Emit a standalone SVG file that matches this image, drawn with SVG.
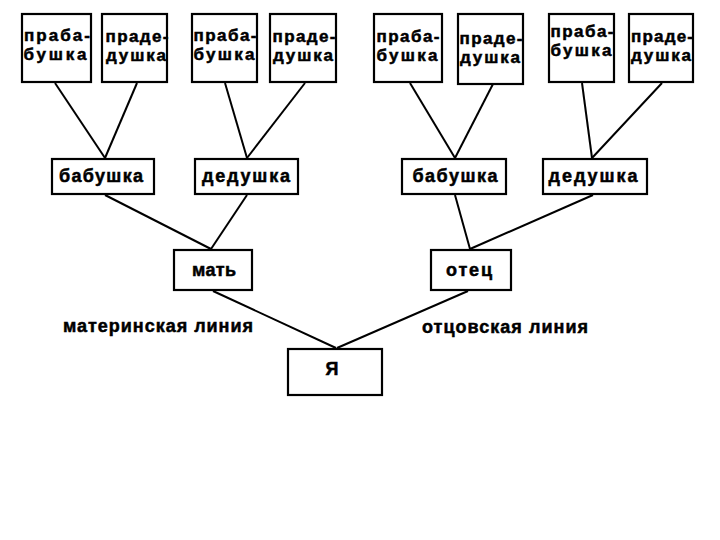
<svg xmlns="http://www.w3.org/2000/svg" width="720" height="540" viewBox="0 0 720 540">
<style>
.box{fill:#fff;stroke:#000;stroke-width:2.2}
.t{font-family:"Liberation Sans",Arial,sans-serif;font-weight:bold;font-size:18px;fill:#000;stroke:#000;stroke-width:0.5;text-anchor:middle}
.s{font-size:17px}
.c line{stroke:#000;stroke-width:2}
</style>
<rect width="720" height="540" fill="#fff"/>
<g class="c" id="connectors">
<line x1="55" y1="83" x2="105" y2="158"/>
<line x1="137" y1="83" x2="105" y2="158"/>
<line x1="225" y1="83" x2="247" y2="158"/>
<line x1="305" y1="83" x2="247" y2="158"/>
<line x1="410" y1="83" x2="455" y2="158"/>
<line x1="493" y1="84" x2="455" y2="158"/>
<line x1="582" y1="83" x2="592" y2="158"/>
<line x1="662" y1="83" x2="592" y2="158"/>
<line x1="105" y1="195" x2="211" y2="249"/>
<line x1="247" y1="195" x2="211" y2="249"/>
<line x1="455" y1="195" x2="470" y2="249"/>
<line x1="593" y1="195" x2="470" y2="249"/>
<line x1="213" y1="291" x2="336" y2="348"/>
<line x1="468" y1="291" x2="337" y2="348"/>
</g>
<g id="n1"><rect class="box" x="22" y="14" width="69" height="68"/><text class="t s" x="57" y="41" textLength="66">праба-</text><text class="t s" x="55" y="60" textLength="63">бушка</text></g>
<g id="n2"><rect class="box" x="102" y="14" width="65" height="68"/><text class="t s" x="137" y="42" textLength="63">праде-</text><text class="t s" x="136" y="61" textLength="60">душка</text></g>
<g id="n3"><rect class="box" x="192" y="14" width="65" height="68"/><text class="t s" x="225" y="41" textLength="63">праба-</text><text class="t s" x="224" y="60" textLength="61">бушка</text></g>
<g id="n4"><rect class="box" x="270" y="14" width="66" height="68"/><text class="t s" x="304" y="42" textLength="63">праде-</text><text class="t s" x="303" y="61" textLength="60">душка</text></g>
<g id="n5"><rect class="box" x="374" y="14" width="68" height="68"/><text class="t s" x="408" y="42" textLength="63">праба-</text><text class="t s" x="407" y="61" textLength="61">бушка</text></g>
<g id="n6"><rect class="box" x="458" y="14" width="65" height="70"/><text class="t s" x="491" y="44" textLength="63">праде-</text><text class="t s" x="490" y="63" textLength="60">душка</text></g>
<g id="n7"><rect class="box" x="549" y="14" width="65" height="68"/><text class="t s" x="582" y="37" textLength="63">праба-</text><text class="t s" x="581" y="56" textLength="61">бушка</text></g>
<g id="n8"><rect class="box" x="629" y="14" width="64" height="68"/><text class="t s" x="662" y="42" textLength="62">праде-</text><text class="t s" x="661" y="61" textLength="60">душка</text></g>
<g id="n9"><rect class="box" x="52" y="159" width="102" height="35"/><text class="t" x="101" y="182" textLength="84">бабушка</text></g>
<g id="n10"><rect class="box" x="195" y="159" width="103" height="35"/><text class="t" x="246" y="182" textLength="88">дедушка</text></g>
<g id="n11"><rect class="box" x="402" y="159" width="104" height="35"/><text class="t" x="455" y="182" textLength="85">бабушка</text></g>
<g id="n12"><rect class="box" x="543" y="159" width="104" height="35"/><text class="t" x="593" y="182" textLength="89">дедушка</text></g>
<g id="n13"><rect class="box" x="174" y="250" width="78" height="40"/><text class="t" x="214" y="276" textLength="44">мать</text></g>
<g id="n14"><rect class="box" x="431" y="250" width="80" height="40"/><text class="t" x="469" y="276" textLength="46">отец</text></g>
<g id="n15"><rect class="box" x="288" y="349" width="94" height="46"/><text class="t" x="332" y="375">Я</text></g>
<g id="labels">
<text class="t" x="158" y="332" textLength="190">материнская линия</text>
<text class="t" x="505" y="333" textLength="166">отцовская линия</text>
</g>
</svg>
